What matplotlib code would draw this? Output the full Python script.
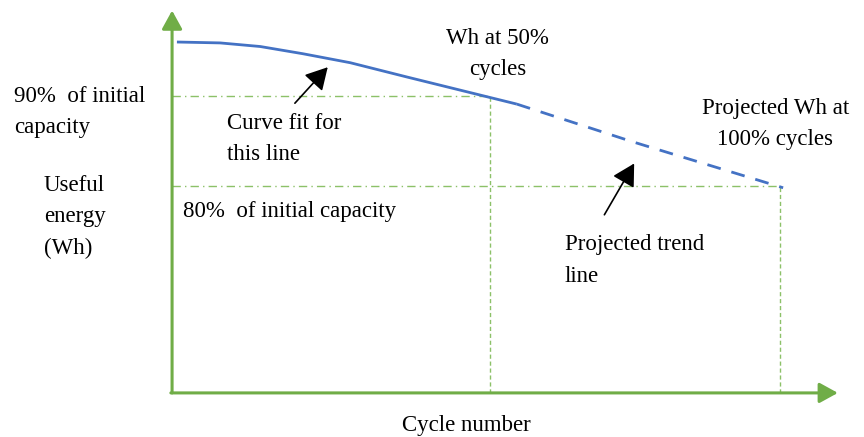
import matplotlib.pyplot as plt

plt.rcParams['font.family'] = ['Liberation Serif', 'DejaVu Serif']

# Data (x = fraction of cycles to 100%, y = fraction of initial capacity)
fit_x = [0.008, 0.079, 0.145, 0.215, 0.293, 0.387, 0.495, 0.567]
fit_y = [0.960, 0.959, 0.955, 0.947, 0.937, 0.921, 0.903, 0.891]
trend_x = [0.567, 0.758, 1.005]
trend_y = [0.891, 0.849, 0.798]

x_50 = 0.523
x_100 = 1.0
cap_90 = 0.9
cap_80 = 0.8
y_base = 0.57

blue = '#4472C4'
green = '#70AD47'
light_green = '#8CC168'

fig = plt.figure(figsize=(8.64, 4.37), dpi=100)
ax = fig.add_axes([0, 0, 1, 1])
ax.set_xlim(-0.283, 1.138)
ax.set_ylim(0.521, 1.0067)
ax.axis('off')

# reference lines
ax.plot([0, x_50], [cap_90, cap_90], color=light_green, lw=1, ls=(0, (6, 3, 1, 3)))
ax.plot([0, x_100], [cap_80, cap_80], color=light_green, lw=1, ls=(0, (6, 3, 1, 3)))
ax.plot([x_50, x_50], [y_base, cap_90], color=light_green, lw=1, ls=(0, (3, 2)))
ax.plot([x_100, x_100], [y_base, cap_80], color=light_green, lw=1, ls=(0, (3, 2)))

# curves
ax.plot(fit_x, fit_y, color=blue, lw=2, solid_capstyle='butt')
ax.plot(trend_x, trend_y, color=blue, lw=2, ls=(0, (5, 4)))

# axes with arrows
axis_style = '-|>,head_length=0.4,head_width=0.22'
ax.annotate('', xy=(0, 0.995), xytext=(0, y_base),
            arrowprops=dict(arrowstyle=axis_style, color=green, lw=2.2, mutation_scale=28, shrinkA=0, shrinkB=0))
ax.annotate('', xy=(1.095, y_base), xytext=(-0.002, y_base),
            arrowprops=dict(arrowstyle=axis_style, color=green, lw=2.2, mutation_scale=28, shrinkA=0, shrinkB=0))

# pointer arrows
ptr_style = '-|>,head_length=0.45,head_width=0.25'
ax.annotate('', xy=(0.256, 0.932), xytext=(0.202, 0.892),
            arrowprops=dict(arrowstyle=ptr_style, color='black', lw=1.2, mutation_scale=30, shrinkA=0, shrinkB=0))
ax.annotate('', xy=(0.760, 0.825), xytext=(0.711, 0.768),
            arrowprops=dict(arrowstyle=ptr_style, color='black', lw=1.2, mutation_scale=30, shrinkA=0, shrinkB=0))

fs = 16.5
ls = 1.65
ax.text(0.535, 0.947, 'Wh at 50%\ncycles', ha='center', va='center', fontsize=fs, linespacing=ls, multialignment='center')
ax.text(-0.26, 0.882, '90%  of initial\ncapacity', ha='left', va='center', fontsize=fs, linespacing=ls)
ax.text(0.090, 0.852, 'Curve fit for\nthis line', ha='left', va='center', fontsize=fs, linespacing=ls)
ax.text(-0.211, 0.766, 'Useful\nenergy\n(Wh)', ha='left', va='center', fontsize=fs, linespacing=ls)
ax.text(0.018, 0.772, '80%  of initial capacity', ha='left', va='center', fontsize=fs)
ax.text(0.992, 0.869, 'Projected Wh at\n100% cycles', ha='center', va='center', fontsize=fs, linespacing=ls, multialignment='center')
ax.text(0.646, 0.717, 'Projected trend\nline', ha='left', va='center', fontsize=fs, linespacing=ls)
ax.text(0.484, 0.534, 'Cycle number', ha='center', va='center', fontsize=fs)

fig.savefig('out.png', dpi=100)
